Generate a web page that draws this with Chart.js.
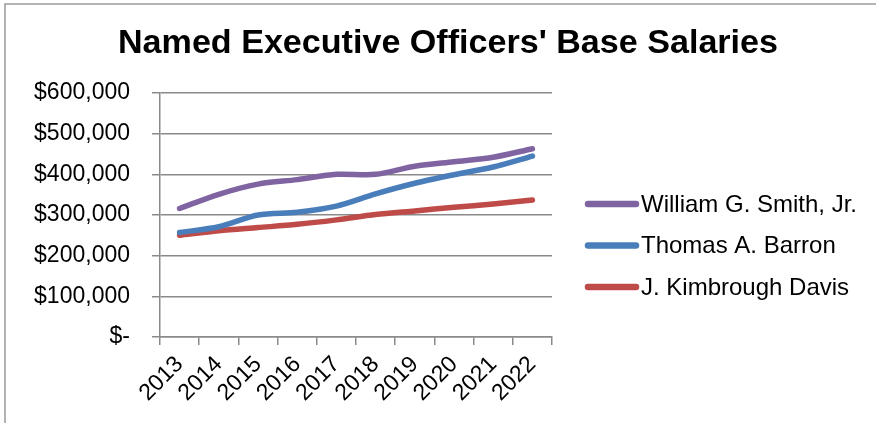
<!DOCTYPE html>
<html>
<head>
<meta charset="utf-8">
<script src="https://cdn.jsdelivr.net/npm/chart.js@4.4.0/dist/chart.umd.min.js"></script>
<style>
  html, body { margin: 0; padding: 0; background: #fff; }
  #wrap { width: 876px; height: 423px; position: relative; }
</style>
</head>
<body>
<div id="wrap"><canvas id="salaires" width="876" height="423"></canvas></div>
<script>
// donnees du graphique
var annees = ["2013", "2014", "2015", "2016", "2017", "2018", "2019", "2020", "2021", "2022"];
var smith = [316000, 351000, 376000, 387000, 400000, 400000, 420000, 431000, 442000, 463000];
var barron = [257000, 271000, 300000, 307000, 322000, 352000, 378000, 399000, 418000, 445000];
var davis = [250000, 261000, 269000, 277000, 288000, 301000, 310000, 319000, 327000, 337000];
var noms = ["William G. Smith, Jr.", "Thomas A. Barron", "J. Kimbrough Davis"];
var couleurs = ["#8064A2", "#4A7EBB", "#BE4B48"];
var yTicks = [0, 100000, 200000, 300000, 400000, 500000, 600000];
var yTickLabels = ["$-", "$100,000", "$200,000", "$300,000", "$400,000", "$500,000", "$600,000"];
var titre = "Named Executive Officers' Base Salaries";

var police = "'Liberation Sans', Arial, sans-serif";

// fond blanc + cadre gris, titre et legende dessines a la main
var cadrePlugin = {
  id: 'cadre',
  beforeDraw: function(chart) {
    var ctx = chart.ctx;
    ctx.save();
    ctx.fillStyle = '#fff';
    ctx.fillRect(0, 0, chart.width, chart.height);
    ctx.strokeStyle = '#9a9a9a';
    ctx.lineWidth = 1.5;
    ctx.beginPath();
    ctx.moveTo(5, chart.height);
    ctx.lineTo(5, 4);
    ctx.lineTo(chart.width, 4);
    ctx.stroke();
    ctx.restore();
  },
  afterDraw: function(chart) {
    var ctx = chart.ctx;
    ctx.save();
    // titre, un peu etire comme dans l'original
    ctx.font = 'bold 33px ' + police;
    ctx.fillStyle = '#000';
    ctx.textBaseline = 'middle';
    ctx.textAlign = 'center';
    var w = ctx.measureText(titre).width;
    ctx.translate(448, 44);
    ctx.scale(660 / w, 1);
    ctx.fillText(titre, 0, 0);
    ctx.restore();

    ctx.save();
    ctx.font = '24px ' + police;
    ctx.textBaseline = 'middle';
    chart.data.datasets.forEach(function(ds, i) {
      var y = 204 + i * 41.5;
      ctx.strokeStyle = ds.borderColor;
      ctx.lineWidth = 6.5;
      ctx.lineCap = 'round';
      ctx.beginPath();
      ctx.moveTo(588, y);
      ctx.lineTo(636, y);
      ctx.stroke();
      ctx.fillStyle = '#000';
      ctx.fillText(ds.label, 641, y + 1);
    });
    ctx.restore();
  }
};

var ctx = document.getElementById("salaires").getContext('2d');
var monGraphique = new Chart(ctx, {
  type: 'line',
  data: {
    labels: annees,
    datasets: [
      { label: noms[0], data: smith, borderColor: couleurs[0] },
      { label: noms[1], data: barron, borderColor: couleurs[1] },
      { label: noms[2], data: davis, borderColor: couleurs[2] }
    ]
  },
  options: {
    responsive: false,
    animation: false,
    layout: { padding: { left: 0, right: 324, top: 93, bottom: 0 } },
    elements: {
      line: { borderWidth: 5.5, tension: 0.3, borderCapStyle: 'round', borderJoinStyle: 'round' },
      point: { radius: 0 }
    },
    plugins: {
      legend: { display: false },
      tooltip: { enabled: false },
      title: { display: false }
    },
    scales: {
      x: {
        offset: true,
        afterFit: function(scale) { scale.height = 86; },
        grid: { offset: true, drawOnChartArea: false, drawTicks: true, tickLength: 8, color: '#8a8a8a', lineWidth: 1.5 },
        border: { color: '#8a8a8a', width: 1.5 },
        ticks: {
          autoSkip: false, minRotation: 45, maxRotation: 45, padding: 6,
          color: '#000', font: { family: police, size: 23 }
        }
      },
      y: {
        min: 0, max: 600000,
        afterFit: function(scale) { scale.width = 160; },
        afterBuildTicks: function(scale) {
          scale.ticks = yTicks.map(function(v) { return { value: v }; });
        },
        grid: { color: '#8a8a8a', lineWidth: 1.5, drawTicks: true, tickLength: 8 },
        border: { color: '#8a8a8a', width: 1.5 },
        ticks: {
          padding: 22,
          color: '#000', font: { family: police, size: 23 },
          callback: function(value, index) { return yTickLabels[index]; }
        }
      }
    }
  },
  plugins: [cadrePlugin]
});
</script>
</body>
</html>
